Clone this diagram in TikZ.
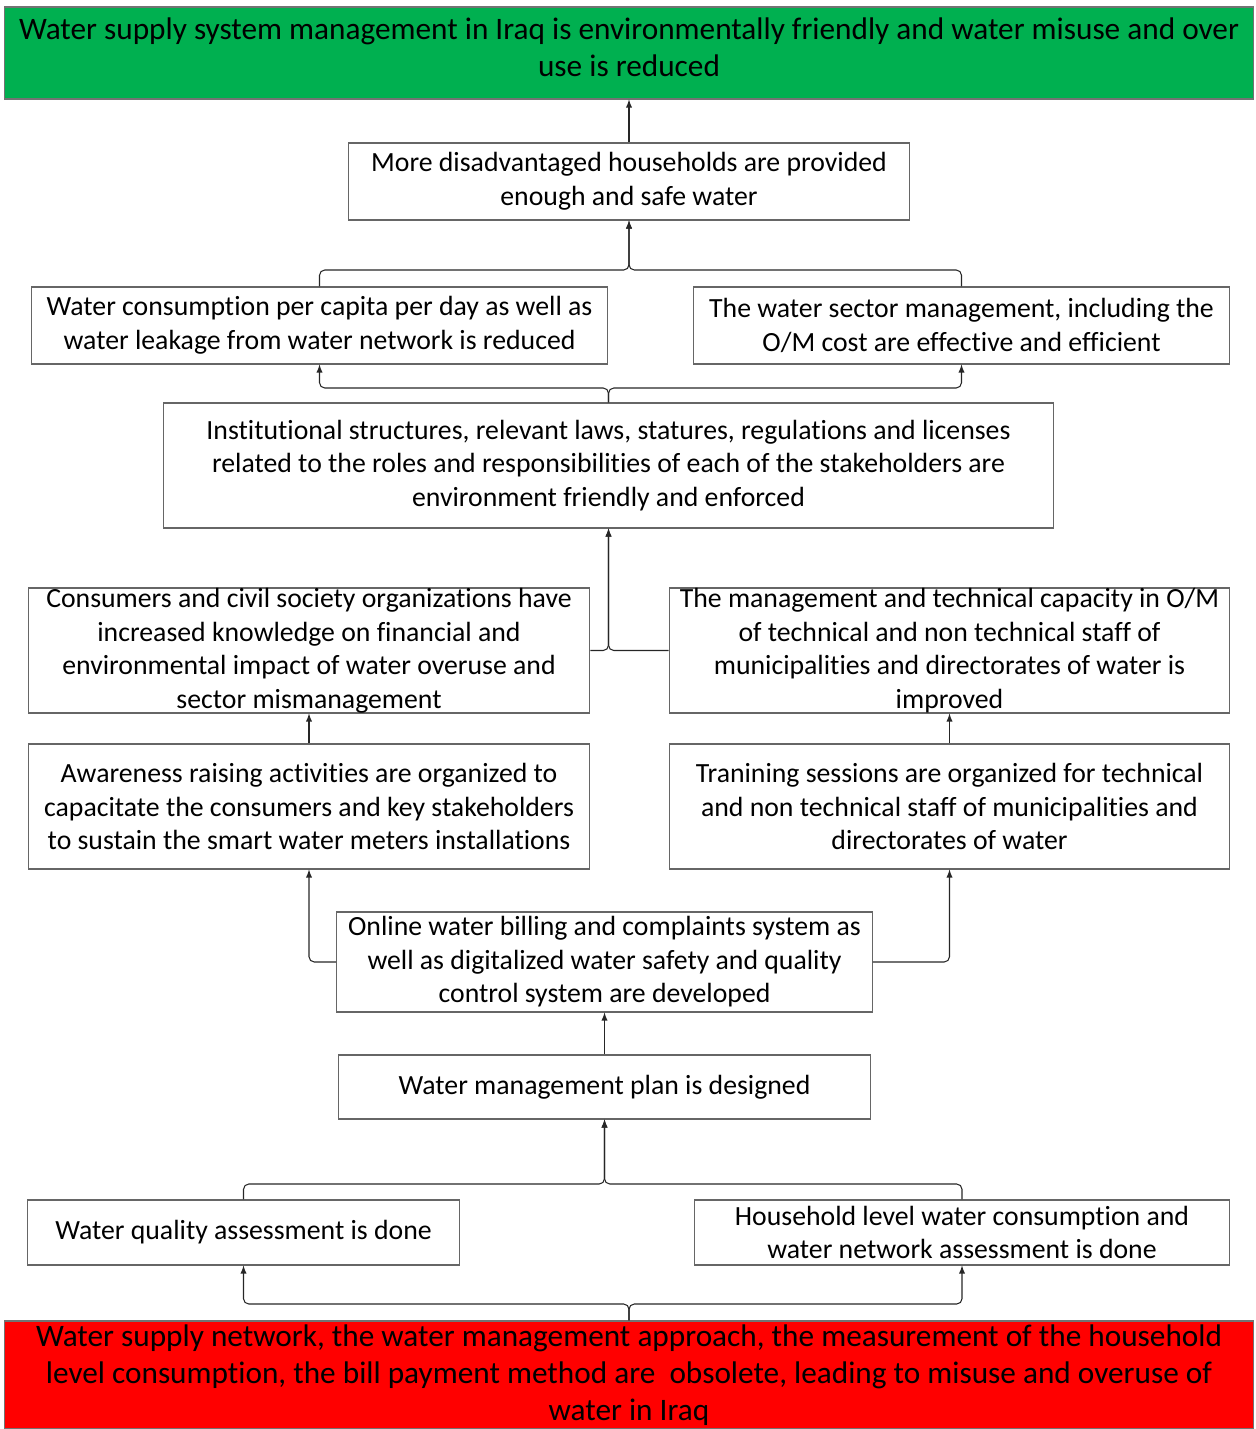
\documentclass[tikz,border=0pt]{standalone}
\usepackage{fontspec}
\setmainfont{Carlito}[Ligatures=NoCommon]
\usetikzlibrary{arrows}
\newcommand\boxfont{\fontsize{15.8}{19.07}\selectfont}
\newcommand\bannerfont{\fontsize{17.8}{21.1}\selectfont}
\definecolor{goalgreen}{HTML}{00B050}
\definecolor{problemred}{HTML}{FF0000}
\begin{document}
\begin{tikzpicture}[x=0.02cm,y=-0.02cm,
  every path/.style={>=latex,line width=0.6pt},
  every node/.style={draw=black!60,rectangle,align=center,inner sep=0pt,font=\boxfont},
  banner/.style={font=\bannerfont,minimum width=25cm,draw=black!55},
  link/.style={->,draw=black!85,rounded corners=3pt}]
\useasboundingbox (0,0) rectangle (1255,1429);
\node[banner,fill=goalgreen,minimum height=1.84cm,text depth=0.24cm] (goal) at (629,53) {Water supply system management in Iraq is environmentally friendly and water misuse and over\\use is reduced};
\node[minimum width=11.24cm,minimum height=1.54cm] (households) at (629,181.5) {More disadvantaged households are provided\\enough and safe water};
\node[minimum width=11.54cm,minimum height=1.54cm] (consumption) at (319.5,325.5) {Water consumption per capita per day as well as\\water leakage from water network is reduced};
\node[minimum width=10.74cm,minimum height=1.54cm] (sector-mgmt) at (961.5,325.5) {The water sector management, including the\\O/M cost are effective and efficient};
\node[minimum width=17.82cm,minimum height=2.5cm] (institutions) at (608.5,465.5) {Institutional structures, relevant laws, statures, regulations and licenses\\related to the roles and responsibilities of each of the stakeholders are\\environment friendly and enforced};
\node[minimum width=11.24cm,minimum height=2.5cm] (knowledge) at (309,650.5) {Consumers and civil society organizations have\\increased knowledge on financial and\\environmental impact of water overuse and\\sector mismanagement};
\node[minimum width=11.22cm,minimum height=2.5cm] (capacity) at (949.5,650.5) {The management and technical capacity in O/M\\of technical and non technical staff of\\municipalities and directorates of water is\\improved};
\node[minimum width=11.24cm,minimum height=2.5cm] (awareness) at (309,806.5) {Awareness raising activities are organized to\\capacitate the consumers and key stakeholders\\to sustain the smart water meters installations};
\node[minimum width=11.22cm,minimum height=2.5cm] (training) at (949.5,806.5) {Tranining sessions are organized for technical\\and non technical staff of municipalities and\\directorates of water};
\node[minimum width=10.72cm,minimum height=2cm] (online) at (604.5,962) {Online water billing and complaints system as\\well as digitalized water safety and quality\\control system are developed};
\node[minimum width=10.66cm,minimum height=1.28cm] (plan) at (604.5,1087) {Water management plan is designed};
\node[minimum width=8.66cm,minimum height=1.3cm] (quality) at (243.5,1232.5) {Water quality assessment is done};
\node[minimum width=10.72cm,minimum height=1.3cm] (household-assess) at (962,1232.5) {Household level water consumption and\\water network assessment is done};
\node[banner,fill=problemred,minimum height=2.16cm] (problem) at (629,1375) {Water supply network, the water management approach, the measurement of the household\\level consumption, the bill payment method are\ \ obsolete, leading to misuse and overuse of\\water in Iraq};

\coordinate (fork-top) at (629,270);
\coordinate (fork-inst) at (608.5,388);
\coordinate (fork-plan) at (604.5,1184);
\coordinate (fork-root) at (629,1304);

\draw[link] (households) -- (goal);
\draw[link] (consumption.north) |- (fork-top) -- (households.south);
  \draw[link] (sector-mgmt.north) |- (fork-top) -- (households.south);
\draw[link] (institutions.north) -- (fork-inst) -| (consumption.south);
  \draw[link] (institutions.north) -- (fork-inst) -| (sector-mgmt.south);
\draw[link] (knowledge.east) -| (institutions.south);
  \draw[link] (capacity.west) -| (institutions.south);
\draw[link] (awareness) -- (knowledge);
\draw[link] (training) -- (capacity);
\draw[link] (online.west) -| (awareness.south);
  \draw[link] (online.east) -| (training.south);
\draw[link] (plan) -- (online);
\draw[link] (quality.north) |- (fork-plan) -- (plan.south);
  \draw[link] (household-assess.north) |- (fork-plan) -- (plan.south);
\draw[link] (problem.north) -- (fork-root) -| (quality.south);
  \draw[link] (problem.north) -- (fork-root) -| (household-assess.south);
\end{tikzpicture}
\end{document}
